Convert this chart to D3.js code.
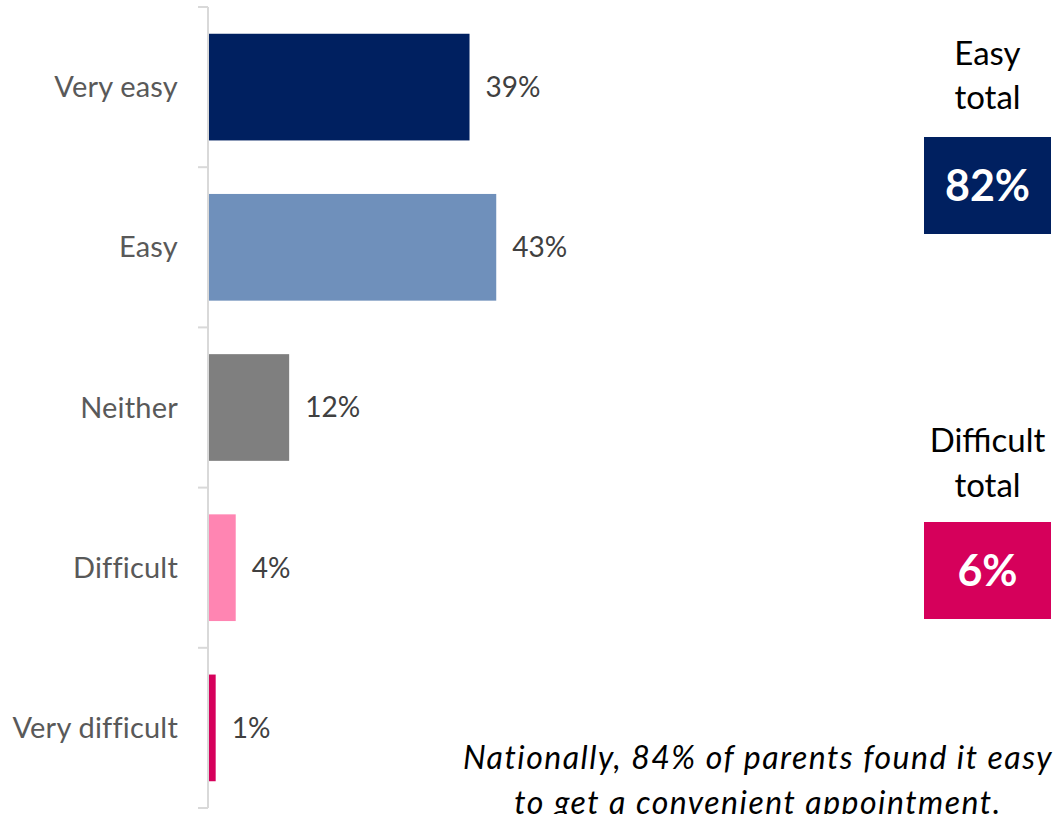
<!DOCTYPE html>
<html>
<head>
<meta charset="utf-8">
<script src="https://cdn.jsdelivr.net/npm/d3@7"></script>
<style>
  html, body { margin: 0; padding: 0; background: #fff; }
  svg { display: block; }
  text { font-family: Lato, "Open Sans", sans-serif; }
</style>
</head>
<body>
<svg id="chart" width="1063" height="814"></svg>
<script>
// Responses to "How easy was it to get a convenient appointment?"
const categories = ["Very easy", "Easy", "Neither", "Difficult", "Very difficult"];
const values = [39, 43, 12, 4, 1];
const barColors = ["#002060", "#6f90bb", "#7f7f7f", "#ff85b2", "#d6005b"];

// Net totals shown at the right
const totalLabels = [["Easy", "total"], ["Difficult", "total"]];
const totalValues = [82, 6];
const totalColors = ["#002060", "#d6005b"];

const footnote = ["Nationally, 84% of parents found it easy", "to get a convenient appointment."];

const svg = d3.select("#chart");

const x = d3.scaleLinear().domain([0, 100]).range([209, 877]);
const y = d3.scaleBand().domain(categories).range([7, 808]).paddingInner(0.334).paddingOuter(0.167);

// Category axis with light ticks at band edges
const axisX = 208;
const edges = d3.range(categories.length + 1).map(i => 7 + i * (808 - 7) / categories.length);
svg.append("line")
  .attr("x1", axisX).attr("x2", axisX)
  .attr("y1", 7).attr("y2", 808)
  .attr("stroke", "#d9d9d9").attr("stroke-width", 2);
svg.selectAll("line.tick").data(edges).join("line")
  .attr("class", "tick")
  .attr("x1", axisX - 10).attr("x2", axisX)
  .attr("y1", d => d).attr("y2", d => d)
  .attr("stroke", "#d9d9d9").attr("stroke-width", 2);

svg.selectAll("text.cat").data(categories).join("text")
  .attr("class", "cat")
  .attr("x", 178)
  .attr("y", d => y(d) + y.bandwidth() / 2)
  .attr("dy", "0.35em")
  .attr("text-anchor", "end")
  .attr("font-size", 29)
  .attr("letter-spacing", 0.2)
  .attr("fill", "#595959")
  .text(d => d);

// Bars
svg.selectAll("rect.bar").data(values).join("rect")
  .attr("class", "bar")
  .attr("x", x(0))
  .attr("y", (d, i) => y(categories[i]))
  .attr("width", d => x(d) - x(0))
  .attr("height", y.bandwidth())
  .attr("fill", (d, i) => barColors[i]);

// Value labels
svg.selectAll("text.val").data(values).join("text")
  .attr("class", "val")
  .attr("x", d => x(d) + 16)
  .attr("y", (d, i) => y(categories[i]) + y.bandwidth() / 2)
  .attr("dy", "0.35em")
  .attr("font-size", 28)
  .attr("fill", "#404040")
  .text(d => d + "%");

// Total boxes
const boxX = 924, boxW = 127, boxH = 97;
const boxTops = [137, 522];
const titleBase = [[65, 109], [452, 497]];
totalValues.forEach((v, i) => {
  const g = svg.append("g");
  totalLabels[i].forEach((t, j) => {
    g.append("text")
      .attr("x", boxX + boxW / 2)
      .attr("y", titleBase[i][j])
      .attr("text-anchor", "middle")
      .attr("font-size", 33)
      .attr("fill", "#000")
      .text(t);
  });
  g.append("rect")
    .attr("x", boxX).attr("y", boxTops[i])
    .attr("width", boxW).attr("height", boxH)
    .attr("fill", totalColors[i]);
  g.append("text")
    .attr("x", boxX + boxW / 2)
    .attr("y", boxTops[i] + boxH / 2)
    .attr("dy", "0.36em")
    .attr("text-anchor", "middle")
    .attr("font-size", 43)
    .attr("font-weight", "bold")
    .attr("fill", "#fff")
    .text(v + "%");
});

// Footnote
footnote.forEach((t, i) => {
  svg.append("text")
    .attr("x", 758)
    .attr("y", 769 + i * 45)
    .attr("text-anchor", "middle")
    .attr("font-size", 32)
    .attr("letter-spacing", 1.5)
    .attr("font-style", "italic")
    .attr("fill", "#000")
    .text(t);
});
</script>
</body>
</html>
